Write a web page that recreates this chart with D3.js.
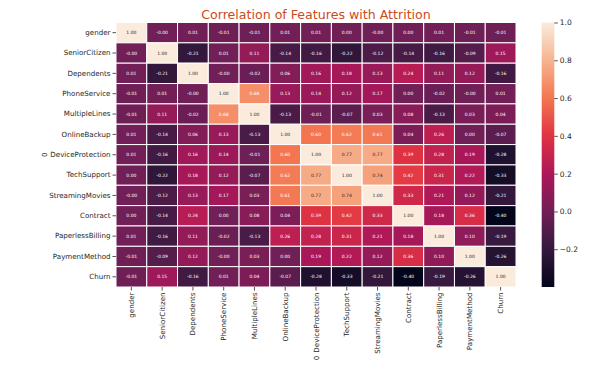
<!DOCTYPE html>
<html>
<head>
<meta charset="utf-8">
<script src="https://cdn.jsdelivr.net/npm/d3@7"></script>
<style>
  body { margin: 0; background: #fff; }
  text { font-family: "DejaVu Sans", sans-serif; }
</style>
</head>
<body>
<div id="chart"></div>
<script>
const features = ['gender', 'SeniorCitizen', 'Dependents', 'PhoneService', 'MultipleLines',
    'OnlineBackup', 'DeviceProtection', 'TechSupport', 'StreamingMovies', 'Contract',
    'PaperlessBilling', 'PaymentMethod', 'Churn']

// correlation rows (-0 keeps the "-0.00" labels)
const gender           = [1.00, -0, 0.01, -0.01, -0.01, 0.01, 0.01, 0.00, -0, 0.00, 0.01, -0.01, -0.01]
const seniorCitizen    = [-0, 1.00, -0.21, 0.01, 0.11, -0.14, -0.16, -0.22, -0.12, -0.14, -0.16, -0.09, 0.15]
const dependents       = [0.01, -0.21, 1.00, -0, -0.02, 0.06, 0.16, 0.18, 0.13, 0.24, 0.11, 0.12, -0.16]
const phoneService     = [-0.01, 0.01, -0, 1.00, 0.68, 0.13, 0.14, 0.12, 0.17, 0.00, -0.02, -0, 0.01]
const multipleLines    = [-0.01, 0.11, -0.02, 0.68, 1.00, -0.13, -0.01, -0.07, 0.03, 0.08, -0.13, 0.03, 0.04]
const onlineBackup     = [0.01, -0.14, 0.06, 0.13, -0.13, 1.00, 0.60, 0.62, 0.61, 0.04, 0.26, 0.00, -0.07]
const deviceProtection = [0.01, -0.16, 0.16, 0.14, -0.01, 0.60, 1.00, 0.77, 0.77, 0.39, 0.28, 0.19, -0.28]
const techSupport      = [0.00, -0.22, 0.18, 0.12, -0.07, 0.62, 0.77, 1.00, 0.74, 0.42, 0.31, 0.22, -0.33]
const streamingMovies  = [-0, -0.12, 0.13, 0.17, 0.03, 0.61, 0.77, 0.74, 1.00, 0.33, 0.21, 0.12, -0.21]
const contract         = [0.00, -0.14, 0.24, 0.00, 0.08, 0.04, 0.39, 0.42, 0.33, 1.00, 0.18, 0.36, -0.40]
const paperlessBilling = [0.01, -0.16, 0.11, -0.02, -0.13, 0.26, 0.28, 0.31, 0.21, 0.18, 1.00, 0.10, -0.19]
const paymentMethod    = [-0.01, -0.09, 0.12, -0, 0.03, 0.00, 0.19, 0.22, 0.12, 0.36, 0.10, 1.00, -0.26]
const churn            = [-0.01, 0.15, -0.16, 0.01, 0.04, -0.07, -0.28, -0.33, -0.21, -0.40, -0.19, -0.26, 1.00]

const colorbarTicks = [-0.2, 0.0, 0.2, 0.4, 0.6, 0.8, 1.0]

const rows = [gender, seniorCitizen, dependents, phoneService, multipleLines, onlineBackup,
    deviceProtection, techSupport, streamingMovies, contract, paperlessBilling, paymentMethod, churn]

const cells = []
rows.forEach((row, i) => row.forEach((v, j) => cells.push({ row: features[i], col: features[j], value: v })))

const width = 607
const height = 367
const marginLeft = 116, marginTop = 22.5
const chartWidth = 400, chartHeight = 264.5
const labelSize = 7.1

const svg = d3.select('#chart').append('svg')
    .attr('width', width)
    .attr('height', height)

// seaborn "rocket" approximated by a few stops
const vmin = -0.40, vmax = 1.0
const rocket = ['#03051a', '#35193e', '#701f57', '#ad1759', '#e13342', '#f37651', '#f6b48f', '#faebdd']
const color = d3.scaleLinear()
    .domain(rocket.map((c, i) => vmin + (vmax - vmin) * i / (rocket.length - 1)))
    .range(rocket)
    .clamp(true)

const x = d3.scaleBand().domain(features).range([0, chartWidth])
const y = d3.scaleBand().domain(features).range([0, chartHeight])

const drawingArea = svg.append('g')
    .attr('transform', `translate(${marginLeft},${marginTop})`)

drawingArea.selectAll('rect')
    .data(cells)
    .join('rect')
    .attr('x', d => x(d.col))
    .attr('y', d => y(d.row))
    .attr('width', x.bandwidth())
    .attr('height', y.bandwidth())
    .attr('fill', d => color(d.value))
    .attr('stroke', '#fff')
    .attr('stroke-width', 1)

function luminance(c) {
    const rgb = d3.rgb(c)
    const lin = v => { v /= 255; return v <= 0.03928 ? v / 12.92 : Math.pow((v + 0.055) / 1.055, 2.4) }
    return 0.2126 * lin(rgb.r) + 0.7152 * lin(rgb.g) + 0.0722 * lin(rgb.b)
}
const fmt = v => (v < 0 || Object.is(v, -0) ? '-' : '') + Math.abs(v).toFixed(2)

drawingArea.selectAll('text.annot')
    .data(cells)
    .join('text')
    .attr('class', 'annot')
    .attr('x', d => x(d.col) + x.bandwidth() / 2)
    .attr('y', d => y(d.row) + y.bandwidth() / 2)
    .attr('dy', '0.35em')
    .attr('text-anchor', 'middle')
    .attr('font-size', 4.5)
    .attr('fill', d => luminance(color(d.value)) > 0.408 ? '#262626' : '#fff')
    .text(d => fmt(d.value))

// axes
const xAxis = drawingArea.append('g')
    .attr('transform', `translate(0,${chartHeight})`)
    .call(d3.axisBottom(x).tickSize(3.5).tickPadding(2))
xAxis.select('.domain').remove()
xAxis.selectAll('text')
    .attr('font-size', labelSize)
    .attr('fill', '#262626')
    .attr('transform', 'rotate(-90)')
    .attr('text-anchor', 'end')
    .attr('x', -5.5)
    .attr('y', 0)
    .attr('dy', '0.35em')
xAxis.selectAll('line').attr('stroke', '#262626').attr('stroke-width', 0.8)

const yAxis = drawingArea.append('g')
    .call(d3.axisLeft(y).tickSize(3.5).tickPadding(2))
yAxis.select('.domain').remove()
yAxis.selectAll('text').attr('font-size', labelSize).attr('fill', '#262626')
yAxis.selectAll('line').attr('stroke', '#262626').attr('stroke-width', 0.8)

// axis labels ("0", the index name)
svg.append('text')
    .attr('transform', `translate(${marginLeft + chartWidth / 2},358) rotate(-90)`)
    .attr('text-anchor', 'middle')
    .attr('dy', '0.35em')
    .attr('font-size', labelSize)
    .attr('fill', '#262626')
    .text('0')
svg.append('text')
    .attr('transform', `translate(44,${marginTop + chartHeight / 2}) rotate(-90)`)
    .attr('text-anchor', 'middle')
    .attr('dy', '0.35em')
    .attr('font-size', labelSize)
    .attr('fill', '#262626')
    .text('0')

// title
svg.append('text')
    .attr('x', marginLeft + chartWidth / 2)
    .attr('y', 18.5)
    .attr('text-anchor', 'middle')
    .attr('font-size', 12.6)
    .attr('fill', '#cc4a1c')
    .text('Correlation of Features with Attrition')

// colorbar
const cbX = 541.7, cbW = 12.6
const cbScale = d3.scaleLinear().domain([vmin, vmax]).range([marginTop + chartHeight, marginTop])
const grad = svg.append('defs').append('linearGradient')
    .attr('id', 'cbgrad')
    .attr('x1', 0).attr('y1', 1).attr('x2', 0).attr('y2', 0)
grad.selectAll('stop')
    .data(rocket)
    .join('stop')
    .attr('offset', (c, i) => i / (rocket.length - 1))
    .attr('stop-color', c => c)
svg.append('rect')
    .attr('x', cbX)
    .attr('y', marginTop)
    .attr('width', cbW)
    .attr('height', chartHeight)
    .attr('fill', 'url(#cbgrad)')

const cbAxis = svg.append('g')
    .attr('transform', `translate(${cbX + cbW},0)`)
    .call(d3.axisRight(cbScale).tickValues(colorbarTicks).tickSize(3.5).tickPadding(2)
        .tickFormat(d => d3.format('.1f')(d)))
cbAxis.select('.domain').remove()
cbAxis.selectAll('text').attr('font-size', 7.5).attr('fill', '#262626')
cbAxis.selectAll('line').attr('stroke', '#262626').attr('stroke-width', 0.8)
</script>
</body>
</html>
